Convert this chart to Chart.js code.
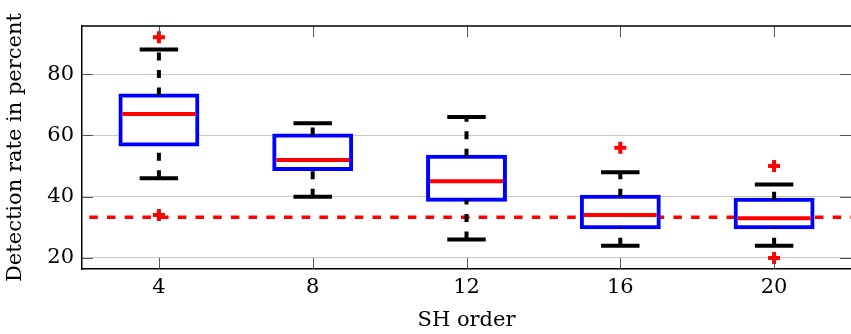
<!DOCTYPE html>
<html>
<head>
<meta charset="utf-8">
<title>Detection rate by SH order</title>
<script src="https://cdn.jsdelivr.net/npm/chart.js@4/dist/chart.umd.min.js"></script>
<style>
  html, body { margin: 0; padding: 0; background: #fff; }
  canvas { display: block; }
</style>
</head>
<body>
<canvas id="boxChart" width="851" height="334"></canvas>
<script>
// SH orders on the x axis
const categories = ['4', '8', '12', '16', '20'];

// Box statistics per SH order (detection rate in percent)
const q1 = [57, 49, 39, 30, 30];
const q3 = [73, 60, 53, 40, 39];
const medians = [67, 52, 45, 34, 33];
const whiskerLow = [46, 40, 26, 24, 24];
const whiskerHigh = [88, 64, 66, 48, 44];
const outliers = [[34, 92], [], [], [56], [20, 50]];

// Chance level (one in three)
const chanceLevel = 33.3;

const yTicks = [20, 40, 60, 80];

const serif = 'DejaVu Serif';

const outlierPoints = [];
outliers.forEach((vals, i) => {
    vals.forEach(v => outlierPoints.push({ x: categories[i], y: v }));
});

// Dashed chance line, drawn under the boxes
const chanceLinePlugin = {
    id: 'chanceLine',
    beforeDatasetsDraw(chart) {
        const { ctx, chartArea, scales } = chart;
        const y = scales.y.getPixelForValue(chanceLevel);
        ctx.save();
        ctx.strokeStyle = '#ff0000';
        ctx.lineWidth = 3.5;
        ctx.setLineDash([8.5, 9.2]);
        ctx.lineDashOffset = 10.4;
        ctx.beginPath();
        ctx.moveTo(chartArea.left, y);
        ctx.lineTo(chartArea.right, y);
        ctx.stroke();
        ctx.restore();
    }
};

// Whiskers, caps and medians on top of the boxes
const boxPlotPlugin = {
    id: 'boxExtras',
    afterDatasetsDraw(chart) {
        const { ctx, scales } = chart;
        const xs = scales.x, ys = scales.y;
        const bars = chart.getDatasetMeta(0).data;
        ctx.save();
        categories.forEach((c, i) => {
            const x = xs.getPixelForValue(i);
            const half = bars[i].width / 2;
            const capHalf = half / 2;

            // dashed whiskers, drawn bottom to top
            ctx.strokeStyle = '#000';
            ctx.lineWidth = 4;
            ctx.setLineDash([8, 9.5]);
            ctx.beginPath();
            ctx.moveTo(x, ys.getPixelForValue(whiskerLow[i]));
            ctx.lineTo(x, ys.getPixelForValue(q1[i]));
            ctx.moveTo(x, ys.getPixelForValue(q3[i]));
            ctx.lineTo(x, ys.getPixelForValue(whiskerHigh[i]));
            ctx.stroke();

            // caps
            ctx.setLineDash([]);
            ctx.beginPath();
            [whiskerLow[i], whiskerHigh[i]].forEach(v => {
                const y = ys.getPixelForValue(v);
                ctx.moveTo(x - capHalf, y);
                ctx.lineTo(x + capHalf, y);
            });
            ctx.stroke();

            // median
            const ym = ys.getPixelForValue(medians[i]);
            ctx.strokeStyle = '#ff0000';
            ctx.lineWidth = 4;
            ctx.beginPath();
            ctx.moveTo(x - half + 2, ym);
            ctx.lineTo(x + half - 2, ym);
            ctx.stroke();
        });
        ctx.restore();
    }
};

// Frame on top and inward tick marks
const framePlugin = {
    id: 'frame',
    afterDraw(chart) {
        const { ctx, chartArea, scales } = chart;
        const { left, right, top, bottom } = chartArea;
        ctx.save();
        ctx.strokeStyle = '#555';
        ctx.lineWidth = 1;
        ctx.beginPath();
        categories.forEach((c, i) => {
            const x = Math.round(scales.x.getPixelForValue(i)) + 0.5;
            ctx.moveTo(x, top);
            ctx.lineTo(x, top + 11);
            ctx.moveTo(x, bottom);
            ctx.lineTo(x, bottom - 11);
        });
        yTicks.forEach(v => {
            const y = Math.round(scales.y.getPixelForValue(v)) + 0.5;
            ctx.moveTo(left, y);
            ctx.lineTo(left + 11, y);
            ctx.moveTo(right, y);
            ctx.lineTo(right - 11, y);
        });
        ctx.stroke();
        ctx.strokeStyle = '#000';
        ctx.lineWidth = 1.5;
        ctx.beginPath();
        ctx.moveTo(left, top);
        ctx.lineTo(right, top);
        ctx.stroke();
        ctx.restore();
    }
};

new Chart(document.getElementById('boxChart'), {
    type: 'bar',
    data: {
        labels: categories,
        datasets: [
            {
                label: 'IQR',
                data: categories.map((c, i) => [q1[i], q3[i]]),
                backgroundColor: '#ffffff',
                borderColor: '#0000ff',
                borderWidth: 4,
                borderSkipped: false,
                inflateAmount: 2,
                barPercentage: 0.5,
                categoryPercentage: 1,
                order: 2
            },
            {
                type: 'line',
                label: 'Outliers',
                data: outlierPoints,
                showLine: false,
                pointStyle: 'cross',
                pointRadius: 6,
                pointBorderWidth: 4,
                pointBorderColor: '#ff0000',
                pointBackgroundColor: '#ff0000',
                order: 1
            }
        ]
    },
    options: {
        responsive: false,
        animation: false,
        devicePixelRatio: 1,
        layout: {
            autoPadding: false,
            padding: { top: 26, right: 0, bottom: 0, left: 0 }
        },
        plugins: {
            legend: { display: false },
            tooltip: { enabled: false }
        },
        scales: {
            x: {
                type: 'category',
                offset: true,
                grid: { display: false, drawTicks: false },
                border: { display: true, color: '#000', width: 1.5 },
                ticks: { color: '#000', padding: 6, font: { family: serif, size: 21 } },
                title: {
                    display: true,
                    text: 'SH order',
                    color: '#000',
                    font: { family: serif, size: 21 },
                    padding: { top: 0, bottom: 1 }
                },
                afterFit(scale) {
                    scale.height = 65;
                    scale.paddingLeft = 0;
                    scale.paddingRight = 0;
                }
            },
            y: {
                min: 16.4,
                max: 95.7,
                afterBuildTicks(scale) { scale.ticks = yTicks.map(v => ({ value: v })); },
                grid: { color: '#c8c8c8', lineWidth: 1, drawTicks: false },
                border: { display: true, color: '#000', width: 1.5 },
                ticks: { color: '#000', padding: 8, font: { family: serif, size: 21 } },
                title: {
                    display: true,
                    text: 'Detection rate in percent',
                    color: '#000',
                    font: { family: serif, size: 21 },
                    padding: { top: 3, bottom: 0 }
                },
                afterFit(scale) { scale.width = 82; }
            }
        }
    },
    plugins: [chanceLinePlugin, boxPlotPlugin, framePlugin]
});
</script>
</body>
</html>
